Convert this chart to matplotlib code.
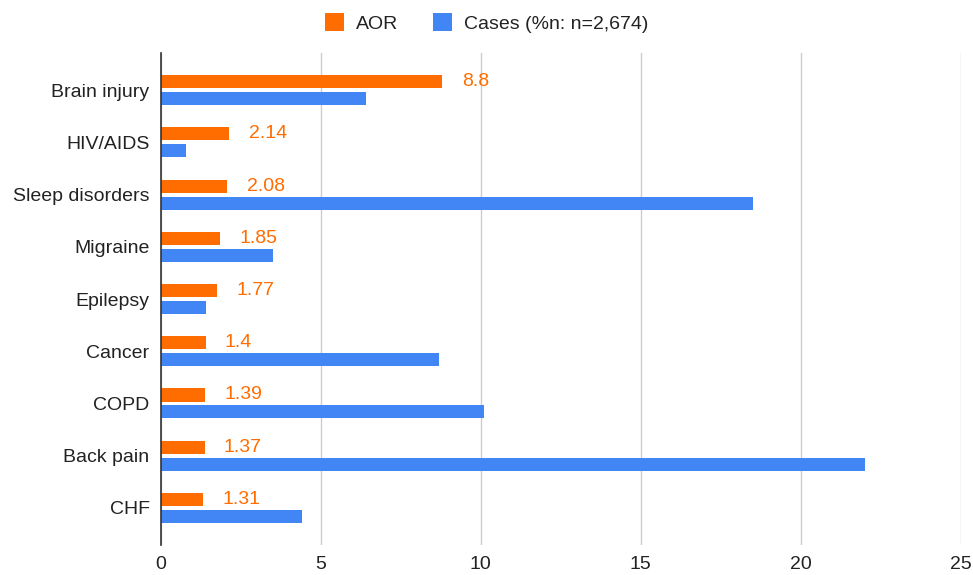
import matplotlib
matplotlib.use("Agg")
import matplotlib.pyplot as plt
from matplotlib.patches import Patch
import numpy as np

categories = ["Brain injury", "HIV/AIDS", "Sleep disorders", "Migraine", "Epilepsy",
              "Cancer", "COPD", "Back pain", "CHF"]
aor = [8.8, 2.14, 2.08, 1.85, 1.77, 1.4, 1.39, 1.37, 1.31]
aor_labels = ["8.8", "2.14", "2.08", "1.85", "1.77", "1.4", "1.39", "1.37", "1.31"]
cases = [6.4, 0.8, 18.5, 3.5, 1.4, 8.7, 10.1, 22.0, 4.4]
xticks = [0, 5, 10, 15, 20, 25]
series_names = ["AOR", "Cases (%n: n=2,674)"]

ORANGE = "#FF6D01"
BLUE = "#4285F4"

plt.rcParams['font.family'] = ['Liberation Sans', 'DejaVu Sans']

W, H = 973, 575
fig = plt.figure(figsize=(W / 100, H / 100), dpi=100)
left, right, top, bottom = 160.7, 960.7, 53, 545
ax = fig.add_axes([left / W, 1 - bottom / H, (right - left) / W, (bottom - top) / H])

y = np.arange(len(categories))
bh = 0.25
off = 0.1625
ax.barh(y - off, aor, height=bh, color=ORANGE, zorder=3)
ax.barh(y + off, cases, height=bh, color=BLUE, zorder=3)

for yi, v, lab in zip(y, aor, aor_labels):
    ax.annotate(lab, (v, yi - off), xytext=(14, 0), textcoords="offset points",
                ha="left", va="center", color=ORANGE, fontsize=14)

ax.set_xlim(0, 25)
ax.set_ylim(8.71, -0.71)
ax.set_xticks(xticks)
ax.set_xticklabels([str(t) for t in xticks])
ax.set_yticks(y)
ax.set_yticklabels(categories)
ax.tick_params(axis="both", length=0, labelsize=14, colors="#222222")
ax.tick_params(axis="x", pad=8)
ax.tick_params(axis="y", pad=8)
ax.grid(axis="x", color="#cccccc", linewidth=1, zorder=0)
ax.grid(axis="y", visible=False)
for s in ["top", "right", "bottom"]:
    ax.spines[s].set_visible(False)
ax.spines["left"].set_color("#333333")
ax.spines["left"].set_linewidth(1.2)
ax.spines["left"].set_zorder(4)

handles = [Patch(facecolor=ORANGE, edgecolor="none"), Patch(facecolor=BLUE, edgecolor="none")]
fig.legend(handles, series_names, loc="center", bbox_to_anchor=(0.5, 1 - 23 / H),
           ncol=2, frameon=False, fontsize=14, handlelength=1.0, handleheight=1.0,
           handletextpad=0.6, columnspacing=1.8, labelcolor="#222222")

fig.savefig("out.png", dpi=100)
